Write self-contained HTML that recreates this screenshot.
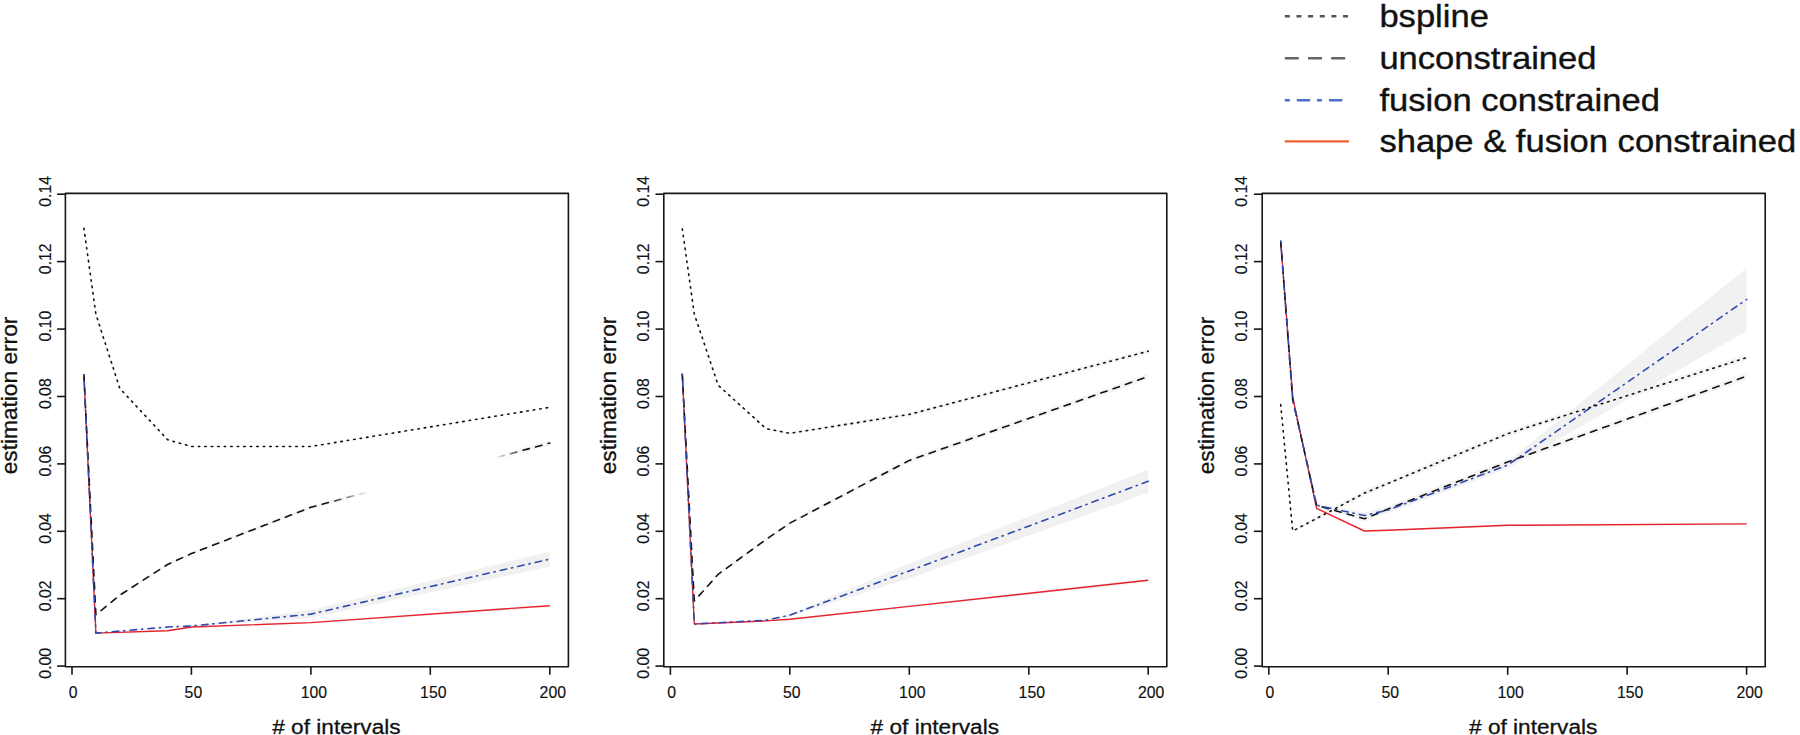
<!DOCTYPE html>
<html><head><meta charset="utf-8"><title>estimation error</title>
<style>
html,body{margin:0;padding:0;background:#fff;}
body{width:1800px;height:735px;overflow:hidden;}
svg{display:block;}
text{font-family:"Liberation Sans",sans-serif;fill:#111;}
</style></head><body>
<svg width="1800" height="735" viewBox="0 0 1800 735">
<rect width="1800" height="735" fill="#fff"/>

<g>
<polygon fill="#f5f5f5" points="83.9,228.2 95.9,314.3 119.8,388.4 167.6,439.7 191.4,446.5 310.9,446.5 549.8,407.3 549.8,407.3 310.9,446.5 191.4,446.5 167.6,439.7 119.8,388.4 95.9,314.3 83.9,228.2"/>
<polygon fill="#f5f5f5" points="83.9,374.8 95.9,614.8 119.8,594.2 167.6,563.3 191.4,552.1 310.9,505.3 549.8,440.6 549.8,445.6 310.9,509.3 191.4,555.1 167.6,565.7 119.8,596.2 95.9,614.8 83.9,374.8"/>
<polygon fill="#f1f1f1" points="83.9,374.8 95.9,633.1 167.6,626.7 191.4,625.5 310.9,610.1 549.8,551.5 549.8,566.7 310.9,618.1 191.4,626.5 167.6,627.3 95.9,633.1 83.9,374.8"/>
<polygon fill="#f5f5f5" points="83.9,374.8 95.9,633.1 167.6,630.7 191.4,627.0 310.9,621.8 549.8,604.2 549.8,607.2 310.9,623.4 191.4,627.0 167.6,630.7 95.9,633.1 83.9,374.8"/>
<path d="M83.9 374.8 L95.9 633.1 L167.6 630.7 L191.4 627.0 L310.9 622.6 L549.8 605.7" fill="none" stroke="#e8212b" stroke-width="1.40" stroke-linejoin="round"/>
<path d="M83.9 374.8 L95.9 614.8 L119.8 595.2 L167.6 564.5 L191.4 553.6 L310.9 507.3 L549.8 443.1" fill="none" stroke="#111" stroke-width="1.60" stroke-linejoin="round" stroke-dasharray="6.5 6.5" stroke-linecap="round"/>
<path d="M83.9 374.8 L95.9 633.1 L167.6 627.0 L191.4 626.0 L310.9 614.1 L549.8 559.1" fill="none" stroke="#3049b0" stroke-width="1.60" stroke-linejoin="round" stroke-dasharray="1.2 5.3 6.5 4.9" stroke-linecap="round"/>
<path d="M83.9 228.2 L95.9 314.3 L119.8 388.4 L167.6 439.7 L191.4 446.5 L310.9 446.5 L549.8 407.3" fill="none" stroke="#111" stroke-width="1.60" stroke-linejoin="round" stroke-dasharray="1.5 5" stroke-linecap="round"/>
<defs><linearGradient id="fade" x1="0" x2="1" y1="0" y2="0"><stop offset="0" stop-color="#fff" stop-opacity="0"/><stop offset="0.2" stop-color="#fff" stop-opacity="1"/><stop offset="0.82" stop-color="#fff" stop-opacity="1"/><stop offset="0.96" stop-color="#fff" stop-opacity="0"/></linearGradient></defs>
<polygon fill="url(#fade)" points="328,489.7 532,435 532,461 328,515.7"/>
<rect x="65.4" y="193.4" width="503.0" height="473.3" fill="none" stroke="#161616" stroke-width="1.6" stroke-linejoin="round"/>
<line x1="72.0" y1="666.7" x2="72.0" y2="674.8" stroke="#161616" stroke-width="1.6"/>
<text x="73.2" y="697.7" text-anchor="middle" font-size="15.8" stroke="#111" stroke-width="0.15">0</text>
<line x1="191.4" y1="666.7" x2="191.4" y2="674.8" stroke="#161616" stroke-width="1.6"/>
<text x="193.4" y="697.7" text-anchor="middle" font-size="15.8" stroke="#111" stroke-width="0.15">50</text>
<line x1="310.9" y1="666.7" x2="310.9" y2="674.8" stroke="#161616" stroke-width="1.6"/>
<text x="313.9" y="697.7" text-anchor="middle" font-size="15.8" stroke="#111" stroke-width="0.15">100</text>
<line x1="430.3" y1="666.7" x2="430.3" y2="674.8" stroke="#161616" stroke-width="1.6"/>
<text x="433.3" y="697.7" text-anchor="middle" font-size="15.8" stroke="#111" stroke-width="0.15">150</text>
<line x1="549.8" y1="666.7" x2="549.8" y2="674.8" stroke="#161616" stroke-width="1.6"/>
<text x="552.8" y="697.7" text-anchor="middle" font-size="15.8" stroke="#111" stroke-width="0.15">200</text>
<line x1="57.1" y1="666.1" x2="65.4" y2="666.1" stroke="#161616" stroke-width="1.6"/>
<text transform="translate(50.6,663.3) scale(1.03,1) rotate(-90)" text-anchor="middle" font-size="15.8" stroke="#111" stroke-width="0.15">0.00</text>
<line x1="57.1" y1="598.7" x2="65.4" y2="598.7" stroke="#161616" stroke-width="1.6"/>
<text transform="translate(50.6,595.9) scale(1.03,1) rotate(-90)" text-anchor="middle" font-size="15.8" stroke="#111" stroke-width="0.15">0.02</text>
<line x1="57.1" y1="531.3" x2="65.4" y2="531.3" stroke="#161616" stroke-width="1.6"/>
<text transform="translate(50.6,528.5) scale(1.03,1) rotate(-90)" text-anchor="middle" font-size="15.8" stroke="#111" stroke-width="0.15">0.04</text>
<line x1="57.1" y1="463.9" x2="65.4" y2="463.9" stroke="#161616" stroke-width="1.6"/>
<text transform="translate(50.6,461.1) scale(1.03,1) rotate(-90)" text-anchor="middle" font-size="15.8" stroke="#111" stroke-width="0.15">0.06</text>
<line x1="57.1" y1="396.5" x2="65.4" y2="396.5" stroke="#161616" stroke-width="1.6"/>
<text transform="translate(50.6,393.7) scale(1.03,1) rotate(-90)" text-anchor="middle" font-size="15.8" stroke="#111" stroke-width="0.15">0.08</text>
<line x1="57.1" y1="329.1" x2="65.4" y2="329.1" stroke="#161616" stroke-width="1.6"/>
<text transform="translate(50.6,326.2) scale(1.03,1) rotate(-90)" text-anchor="middle" font-size="15.8" stroke="#111" stroke-width="0.15">0.10</text>
<line x1="57.1" y1="261.6" x2="65.4" y2="261.6" stroke="#161616" stroke-width="1.6"/>
<text transform="translate(50.6,258.8) scale(1.03,1) rotate(-90)" text-anchor="middle" font-size="15.8" stroke="#111" stroke-width="0.15">0.12</text>
<line x1="57.1" y1="194.2" x2="65.4" y2="194.2" stroke="#161616" stroke-width="1.6"/>
<text transform="translate(50.6,191.4) scale(1.03,1) rotate(-90)" text-anchor="middle" font-size="15.8" stroke="#111" stroke-width="0.15">0.14</text>
<text transform="translate(336.4,733.8) scale(1.10,1)" text-anchor="middle" font-size="20.6" stroke="#111" stroke-width="0.3">&#35; of intervals</text>
<text transform="translate(17.2,395.5) rotate(-90)" text-anchor="middle" font-size="22.7" stroke="#111" stroke-width="0.3">estimation error</text>
</g>
<g>
<polygon fill="#f5f5f5" points="682.3,228.8 694.3,314.0 718.2,385.3 766.0,427.6 789.8,432.1 909.3,412.4 1148.2,348.7 1148.2,353.7 909.3,416.4 789.8,434.5 766.0,429.6 718.2,385.3 694.3,314.0 682.3,228.8"/>
<polygon fill="#f5f5f5" points="682.3,374.2 694.3,601.0 718.2,573.3 766.0,538.0 789.8,521.4 909.3,457.9 1148.2,373.5 1148.2,379.5 909.3,462.9 789.8,525.0 766.0,541.0 718.2,575.3 694.3,601.0 682.3,374.2"/>
<polygon fill="#f1f1f1" points="682.3,374.2 694.3,624.0 766.0,619.7 789.8,614.0 909.3,563.4 1148.2,469.8 1148.2,492.8 909.3,578.4 789.8,616.4 766.0,620.7 694.3,624.0 682.3,374.2"/>
<polygon fill="#f5f5f5" points="682.3,374.2 694.3,624.0 766.0,620.9 789.8,618.7 909.3,605.2 1148.2,578.3 1148.2,582.3 909.3,607.6 789.8,619.7 766.0,620.9 694.3,624.0 682.3,374.2"/>
<path d="M682.3 374.2 L694.3 624.0 L766.0 620.9 L789.8 619.2 L909.3 606.4 L1148.2 580.3" fill="none" stroke="#e8212b" stroke-width="1.40" stroke-linejoin="round"/>
<path d="M682.3 374.2 L694.3 601.0 L718.2 574.3 L766.0 539.5 L789.8 523.2 L909.3 460.4 L1148.2 376.5" fill="none" stroke="#111" stroke-width="1.60" stroke-linejoin="round" stroke-dasharray="6.5 6.5" stroke-linecap="round"/>
<path d="M682.3 374.2 L694.3 624.0 L766.0 620.2 L789.8 615.2 L909.3 570.9 L1148.2 481.3" fill="none" stroke="#3049b0" stroke-width="1.60" stroke-linejoin="round" stroke-dasharray="1.2 5.3 6.5 4.9" stroke-linecap="round"/>
<path d="M682.3 228.8 L694.3 314.0 L718.2 385.3 L766.0 428.6 L789.8 433.3 L909.3 414.4 L1148.2 351.2" fill="none" stroke="#111" stroke-width="1.60" stroke-linejoin="round" stroke-dasharray="1.5 5" stroke-linecap="round"/>
<rect x="663.8" y="193.4" width="503.0" height="473.3" fill="none" stroke="#161616" stroke-width="1.6" stroke-linejoin="round"/>
<line x1="670.4" y1="666.7" x2="670.4" y2="674.8" stroke="#161616" stroke-width="1.6"/>
<text x="671.6" y="697.7" text-anchor="middle" font-size="15.8" stroke="#111" stroke-width="0.15">0</text>
<line x1="789.8" y1="666.7" x2="789.8" y2="674.8" stroke="#161616" stroke-width="1.6"/>
<text x="791.8" y="697.7" text-anchor="middle" font-size="15.8" stroke="#111" stroke-width="0.15">50</text>
<line x1="909.3" y1="666.7" x2="909.3" y2="674.8" stroke="#161616" stroke-width="1.6"/>
<text x="912.3" y="697.7" text-anchor="middle" font-size="15.8" stroke="#111" stroke-width="0.15">100</text>
<line x1="1028.8" y1="666.7" x2="1028.8" y2="674.8" stroke="#161616" stroke-width="1.6"/>
<text x="1031.8" y="697.7" text-anchor="middle" font-size="15.8" stroke="#111" stroke-width="0.15">150</text>
<line x1="1148.2" y1="666.7" x2="1148.2" y2="674.8" stroke="#161616" stroke-width="1.6"/>
<text x="1151.2" y="697.7" text-anchor="middle" font-size="15.8" stroke="#111" stroke-width="0.15">200</text>
<line x1="655.5" y1="666.1" x2="663.8" y2="666.1" stroke="#161616" stroke-width="1.6"/>
<text transform="translate(648.5,663.3) scale(1.03,1) rotate(-90)" text-anchor="middle" font-size="15.8" stroke="#111" stroke-width="0.15">0.00</text>
<line x1="655.5" y1="598.7" x2="663.8" y2="598.7" stroke="#161616" stroke-width="1.6"/>
<text transform="translate(648.5,595.9) scale(1.03,1) rotate(-90)" text-anchor="middle" font-size="15.8" stroke="#111" stroke-width="0.15">0.02</text>
<line x1="655.5" y1="531.3" x2="663.8" y2="531.3" stroke="#161616" stroke-width="1.6"/>
<text transform="translate(648.5,528.5) scale(1.03,1) rotate(-90)" text-anchor="middle" font-size="15.8" stroke="#111" stroke-width="0.15">0.04</text>
<line x1="655.5" y1="463.9" x2="663.8" y2="463.9" stroke="#161616" stroke-width="1.6"/>
<text transform="translate(648.5,461.1) scale(1.03,1) rotate(-90)" text-anchor="middle" font-size="15.8" stroke="#111" stroke-width="0.15">0.06</text>
<line x1="655.5" y1="396.5" x2="663.8" y2="396.5" stroke="#161616" stroke-width="1.6"/>
<text transform="translate(648.5,393.7) scale(1.03,1) rotate(-90)" text-anchor="middle" font-size="15.8" stroke="#111" stroke-width="0.15">0.08</text>
<line x1="655.5" y1="329.1" x2="663.8" y2="329.1" stroke="#161616" stroke-width="1.6"/>
<text transform="translate(648.5,326.2) scale(1.03,1) rotate(-90)" text-anchor="middle" font-size="15.8" stroke="#111" stroke-width="0.15">0.10</text>
<line x1="655.5" y1="261.6" x2="663.8" y2="261.6" stroke="#161616" stroke-width="1.6"/>
<text transform="translate(648.5,258.8) scale(1.03,1) rotate(-90)" text-anchor="middle" font-size="15.8" stroke="#111" stroke-width="0.15">0.12</text>
<line x1="655.5" y1="194.2" x2="663.8" y2="194.2" stroke="#161616" stroke-width="1.6"/>
<text transform="translate(648.5,191.4) scale(1.03,1) rotate(-90)" text-anchor="middle" font-size="15.8" stroke="#111" stroke-width="0.15">0.14</text>
<text transform="translate(934.8,733.8) scale(1.10,1)" text-anchor="middle" font-size="20.6" stroke="#111" stroke-width="0.3">&#35; of intervals</text>
<text transform="translate(615.6,395.5) rotate(-90)" text-anchor="middle" font-size="22.7" stroke="#111" stroke-width="0.3">estimation error</text>
</g>
<g>
<polygon fill="#f5f5f5" points="1280.7,404.6 1292.7,531.0 1316.6,516.0 1364.4,490.1 1388.2,480.3 1507.7,430.7 1746.6,354.4 1746.6,360.8 1507.7,436.7 1388.2,486.3 1364.4,496.1 1316.6,521.0 1292.7,531.0 1280.7,404.6"/>
<polygon fill="#f5f5f5" points="1280.7,241.3 1292.7,399.5 1316.6,503.8 1364.4,515.8 1388.2,506.0 1507.7,459.0 1746.6,373.0 1746.6,379.4 1507.7,465.0 1388.2,512.0 1364.4,521.8 1316.6,506.8 1292.7,399.5 1280.7,241.3"/>
<polygon fill="#f1f1f1" points="1280.7,241.3 1292.7,399.5 1316.6,503.8 1364.4,512.5 1388.2,507.0 1507.7,461.6 1746.6,268.0 1746.6,331.0 1507.7,468.6 1388.2,513.0 1364.4,518.5 1316.6,506.8 1292.7,399.5 1280.7,241.3"/>
<polygon fill="#f5f5f5" points="1280.7,241.3 1292.7,397.2 1316.6,508.4 1364.4,530.5 1388.2,529.5 1507.7,524.1 1746.6,522.4 1746.6,525.4 1507.7,526.5 1388.2,531.1 1364.4,531.5 1316.6,508.4 1292.7,397.2 1280.7,241.3"/>
<path d="M1280.7 241.3 L1292.7 397.2 L1316.6 508.4 L1364.4 531.0 L1388.2 530.3 L1507.7 525.3 L1746.6 523.9" fill="none" stroke="#e8212b" stroke-width="1.40" stroke-linejoin="round"/>
<path d="M1280.7 241.3 L1292.7 399.5 L1316.6 505.3 L1364.4 518.8 L1388.2 509.0 L1507.7 462.0 L1746.6 376.2" fill="none" stroke="#111" stroke-width="1.60" stroke-linejoin="round" stroke-dasharray="6.5 6.5" stroke-linecap="round"/>
<path d="M1280.7 241.3 L1292.7 399.5 L1316.6 505.3 L1364.4 515.5 L1388.2 510.0 L1507.7 465.1 L1746.6 299.5" fill="none" stroke="#3049b0" stroke-width="1.60" stroke-linejoin="round" stroke-dasharray="1.2 5.3 6.5 4.9" stroke-linecap="round"/>
<path d="M1280.7 404.6 L1292.7 531.0 L1316.6 518.5 L1364.4 493.1 L1388.2 483.3 L1507.7 433.7 L1746.6 357.6" fill="none" stroke="#111" stroke-width="1.60" stroke-linejoin="round" stroke-dasharray="1.5 5" stroke-linecap="round"/>
<rect x="1262.2" y="193.4" width="503.0" height="473.3" fill="none" stroke="#161616" stroke-width="1.6" stroke-linejoin="round"/>
<line x1="1268.8" y1="666.7" x2="1268.8" y2="674.8" stroke="#161616" stroke-width="1.6"/>
<text x="1270.0" y="697.7" text-anchor="middle" font-size="15.8" stroke="#111" stroke-width="0.15">0</text>
<line x1="1388.2" y1="666.7" x2="1388.2" y2="674.8" stroke="#161616" stroke-width="1.6"/>
<text x="1390.2" y="697.7" text-anchor="middle" font-size="15.8" stroke="#111" stroke-width="0.15">50</text>
<line x1="1507.7" y1="666.7" x2="1507.7" y2="674.8" stroke="#161616" stroke-width="1.6"/>
<text x="1510.7" y="697.7" text-anchor="middle" font-size="15.8" stroke="#111" stroke-width="0.15">100</text>
<line x1="1627.1" y1="666.7" x2="1627.1" y2="674.8" stroke="#161616" stroke-width="1.6"/>
<text x="1630.1" y="697.7" text-anchor="middle" font-size="15.8" stroke="#111" stroke-width="0.15">150</text>
<line x1="1746.6" y1="666.7" x2="1746.6" y2="674.8" stroke="#161616" stroke-width="1.6"/>
<text x="1749.6" y="697.7" text-anchor="middle" font-size="15.8" stroke="#111" stroke-width="0.15">200</text>
<line x1="1253.9" y1="666.1" x2="1262.2" y2="666.1" stroke="#161616" stroke-width="1.6"/>
<text transform="translate(1247.4,663.3) scale(1.03,1) rotate(-90)" text-anchor="middle" font-size="15.8" stroke="#111" stroke-width="0.15">0.00</text>
<line x1="1253.9" y1="598.7" x2="1262.2" y2="598.7" stroke="#161616" stroke-width="1.6"/>
<text transform="translate(1247.4,595.9) scale(1.03,1) rotate(-90)" text-anchor="middle" font-size="15.8" stroke="#111" stroke-width="0.15">0.02</text>
<line x1="1253.9" y1="531.3" x2="1262.2" y2="531.3" stroke="#161616" stroke-width="1.6"/>
<text transform="translate(1247.4,528.5) scale(1.03,1) rotate(-90)" text-anchor="middle" font-size="15.8" stroke="#111" stroke-width="0.15">0.04</text>
<line x1="1253.9" y1="463.9" x2="1262.2" y2="463.9" stroke="#161616" stroke-width="1.6"/>
<text transform="translate(1247.4,461.1) scale(1.03,1) rotate(-90)" text-anchor="middle" font-size="15.8" stroke="#111" stroke-width="0.15">0.06</text>
<line x1="1253.9" y1="396.5" x2="1262.2" y2="396.5" stroke="#161616" stroke-width="1.6"/>
<text transform="translate(1247.4,393.7) scale(1.03,1) rotate(-90)" text-anchor="middle" font-size="15.8" stroke="#111" stroke-width="0.15">0.08</text>
<line x1="1253.9" y1="329.1" x2="1262.2" y2="329.1" stroke="#161616" stroke-width="1.6"/>
<text transform="translate(1247.4,326.2) scale(1.03,1) rotate(-90)" text-anchor="middle" font-size="15.8" stroke="#111" stroke-width="0.15">0.10</text>
<line x1="1253.9" y1="261.6" x2="1262.2" y2="261.6" stroke="#161616" stroke-width="1.6"/>
<text transform="translate(1247.4,258.8) scale(1.03,1) rotate(-90)" text-anchor="middle" font-size="15.8" stroke="#111" stroke-width="0.15">0.12</text>
<line x1="1253.9" y1="194.2" x2="1262.2" y2="194.2" stroke="#161616" stroke-width="1.6"/>
<text transform="translate(1247.4,191.4) scale(1.03,1) rotate(-90)" text-anchor="middle" font-size="15.8" stroke="#111" stroke-width="0.15">0.14</text>
<text transform="translate(1533.2,733.8) scale(1.10,1)" text-anchor="middle" font-size="20.6" stroke="#111" stroke-width="0.3">&#35; of intervals</text>
<text transform="translate(1214.0,395.5) rotate(-90)" text-anchor="middle" font-size="22.7" stroke="#111" stroke-width="0.3">estimation error</text>
</g>
<g>
<line x1="1284.8" x2="1349.0" y1="16.3" y2="16.3" stroke="#555" stroke-width="2.4" stroke-dasharray="5 6.65"/>
<line x1="1284.8" x2="1346.0" y1="58.2" y2="58.2" stroke="#666" stroke-width="2.6" stroke-dasharray="14 9.2"/>
<line x1="1284.8" x2="1343.0" y1="100.2" y2="100.2" stroke="#4a72c8" stroke-width="2.4" stroke-dasharray="5 7 13.4 6.7"/>
<line x1="1284.8" x2="1349.0" y1="141.4" y2="141.4" stroke="#f0602f" stroke-width="2.2"/>
<text transform="translate(1379.4,26.8) scale(1.087,1)" font-size="31.8" stroke="#111" stroke-width="0.35">bspline</text>
<text transform="translate(1379.4,68.7) scale(1.087,1)" font-size="31.8" stroke="#111" stroke-width="0.35">unconstrained</text>
<text transform="translate(1379.4,111.3) scale(1.087,1)" font-size="31.8" stroke="#111" stroke-width="0.35">fusion constrained</text>
<text transform="translate(1379.4,152.3) scale(1.087,1)" font-size="31.8" stroke="#111" stroke-width="0.35">shape &amp; fusion constrained</text>
</g>
</svg></body></html>
